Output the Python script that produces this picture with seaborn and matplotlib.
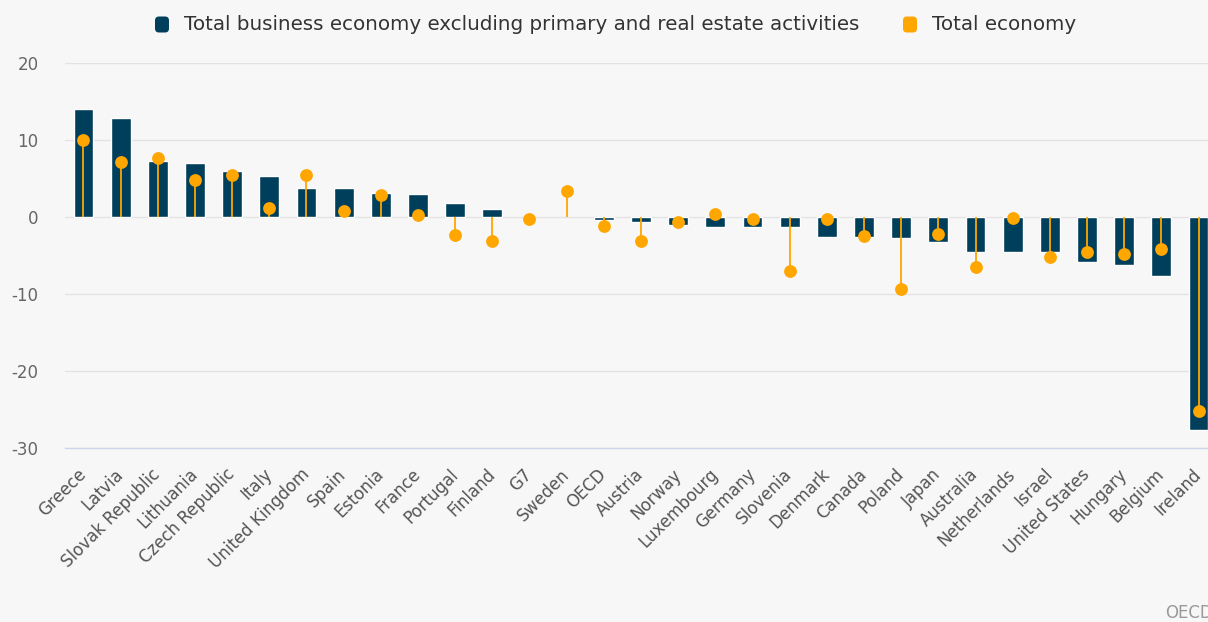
import numpy as np
import pandas as pd
import seaborn as sns
import matplotlib.pyplot as plt
from matplotlib.patches import FancyBboxPatch
from matplotlib.transforms import IdentityTransform

countries = [
    "Greece", "Latvia", "Slovak Republic", "Lithuania", "Czech Republic", "Italy",
    "United Kingdom", "Spain", "Estonia", "France", "Portugal", "Finland", "G7",
    "Sweden", "OECD", "Austria", "Norway", "Luxembourg", "Germany", "Slovenia",
    "Denmark", "Canada", "Poland", "Japan", "Australia", "Netherlands", "Israel",
    "United States", "Hungary", "Belgium", "Ireland",
]
business_excl = [
    14.0, 12.9, 7.3, 7.0, 6.0, 5.35, 3.8, 3.8, 3.1, 3.0, 1.8, 1.0, np.nan,
    np.nan, -0.4, -0.6, -1.0, -1.3, -1.3, -1.3, -2.6, -2.6, -2.7, -3.3,
    -4.5, -4.5, -4.6, -5.9, -6.2, -7.6, -27.6,
]
total_economy = [
    10.0, 7.2, 7.7, 4.8, 5.5, 1.2, 5.5, 0.75, 2.9, 0.2, -2.4, -3.1, -0.3,
    3.4, -1.2, -3.1, -0.7, 0.4, -0.3, -7.0, -0.3, -2.5, -9.3, -2.25,
    -6.5, -0.1, -5.2, -4.6, -4.8, -4.2, -25.2,
]
y_ticks = [-30, -20, -10, 0, 10, 20]
legend_labels = ["Total business economy excluding primary and real estate activities",
                 "Total economy"]

BG = "#f7f7f7"
DARK = "#003f5c"
ORANGE = "#ffa600"
W, H = 1208, 622

sns.set_theme(style="white")
plt.rcParams["font.family"] = ["DejaVu Sans"]

df = pd.DataFrame({"country": countries, "business": business_excl, "total": total_economy})
n = len(df)
pos = np.arange(n)

fig = plt.figure(figsize=(W / 100, H / 100), dpi=100, facecolor=BG)
ax = fig.add_axes([64.9 / W, 1 - 448 / H, (1217.1 - 64.9) / W, (448 - 63) / H])
ax.set_facecolor(BG)

sns.barplot(data=df, x="country", y="business", color=DARK, saturation=1,
            width=0.53, errorbar=None, ax=ax, zorder=2)
ax.vlines(pos, 0, df["total"], color=ORANGE, lw=1.3, zorder=3)
sns.scatterplot(x=pos, y=df["total"].values, color=ORANGE, s=85, linewidth=0,
                legend=False, ax=ax, zorder=4)

ax.set_xlim(-0.5, n - 0.5)
ax.set_ylim(y_ticks[0], y_ticks[-1])
ax.set_yticks(y_ticks)
ax.set_yticklabels([str(v) for v in y_ticks])
ax.set_xticks(pos)
ax.set_xticklabels(countries, rotation=45, ha="right", va="center",
                   rotation_mode="anchor")
ax.set_xlabel("")
ax.set_ylabel("")

ax.yaxis.grid(True, color="#e3e3e3", lw=1.0, zorder=0)
ax.set_axisbelow(True)
for side in ("top", "right", "left"):
    ax.spines[side].set_visible(False)
ax.spines["bottom"].set_color("#ccd6eb")
ax.spines["bottom"].set_linewidth(1.0)
ax.spines["bottom"].set_zorder(5)

ax.tick_params(axis="y", length=0, labelsize=12, labelcolor="#666666", pad=19)
ax.tick_params(axis="x", length=0, labelsize=12, labelcolor="#555555", pad=17)

# legend drawn by hand: rounded swatches followed by labels
legend_items = [(162, 184, DARK, legend_labels[0]), (910, 932, ORANGE, legend_labels[1])]
for x_sym, x_txt, col, lab in legend_items:
    sw = FancyBboxPatch((x_sym - 7, H - 24.5 - 8), 14, 16,
                        boxstyle="round,pad=0,rounding_size=4",
                        transform=IdentityTransform(), facecolor=col,
                        edgecolor="none")
    fig.add_artist(sw)
    fig.text(x_txt / W, 1 - 24.5 / H, lab, ha="left", va="center",
             fontsize=14.3, color="#333333")

fig.text(1165 / W, 1 - 613 / H, "OECD", ha="left", va="center",
         fontsize=12, color="#999999")

fig.savefig("out.png", dpi=100, facecolor=BG)
